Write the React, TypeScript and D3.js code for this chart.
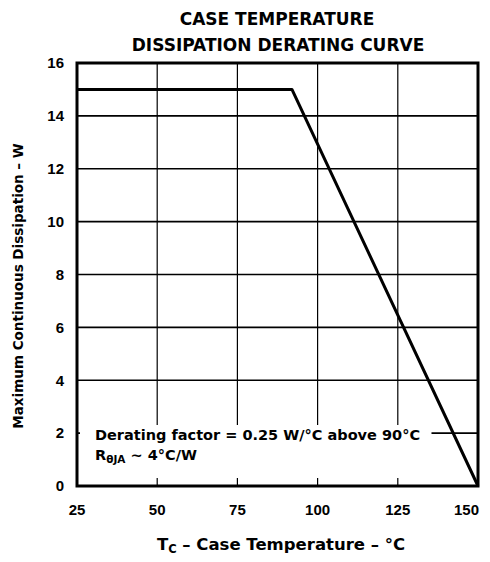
import React from "react";
import * as d3 from "d3";

// derating curve (case temp °C, watts)
const curveTemp = [25, 92, 150];
const curveWatts = [15, 15, 0];
const xTicks = [25, 50, 75, 100, 125, 150];
const yTicks = [0, 2, 4, 6, 8, 10, 12, 14, 16];

const W = 490;
const H = 562;
const margin = { top: 63, right: 12, bottom: 76, left: 77 };
const font = "'Liberation Sans', Arial, Helvetica, sans-serif";
const wide = "'DejaVu Sans', Verdana, sans-serif";

export default function App() {
  const x = d3.scaleLinear().domain([25, 150]).range([margin.left, W - margin.right]);
  const y = d3.scaleLinear().domain([0, 16]).range([H - margin.bottom, margin.top]);

  const pts: [number, number][] = curveTemp.map((t, i) => [t, curveWatts[i]]);
  const line = d3
    .line<[number, number]>()
    .x((d) => x(d[0]))
    .y((d) => y(d[1]));

  const left = x(25);
  const right = x(150);
  const top = y(16);
  const bottom = y(0);

  return (
    <svg
      width={W}
      height={H}
      style={{ position: "absolute", left: 0, top: 0, background: "#fff" }}
      fontFamily={font}
      fontWeight="bold"
    >
      <rect width={W} height={H} fill="#fff" />
      {/* grid */}
      {yTicks.slice(1, -1).map((t) => (
        <line key={"h" + t} x1={left} x2={right} y1={y(t)} y2={y(t)} stroke="#000" strokeWidth={1.6} />
      ))}
      {xTicks.slice(1, -1).map((t) => (
        <line key={"v" + t} x1={x(t)} x2={x(t)} y1={top} y2={bottom} stroke="#000" strokeWidth={1.2} />
      ))}
      {/* annotation box blanks the grid behind the text */}
      <rect x={left + 3} y={425} width={x(135.5) - left - 3} height={bottom - 8 - 425} fill="#fff" />
      <rect x={left} y={top} width={right - left} height={bottom - top} fill="none" stroke="#000" strokeWidth={3} />
      <path d={line(pts) || ""} fill="none" stroke="#000" strokeWidth={3} strokeLinejoin="round" />

      {yTicks.map((t) => (
        <text key={"yl" + t} x={64} y={y(t)} dy="0.35em" textAnchor="end" fontSize={15}>
          {t}
        </text>
      ))}
      {xTicks.map((t, i) => (
        <text
          key={"xl" + t}
          x={i === xTicks.length - 1 ? x(t) + 1 : x(t)}
          y={515}
          textAnchor={i === xTicks.length - 1 ? "end" : "middle"}
          fontSize={15}
        >
          {t}
        </text>
      ))}

      <g fontFamily={wide}>
        <text x={277} y={25} textAnchor="middle" fontSize={17}>
          CASE TEMPERATURE
        </text>
        <text x={278} y={51} textAnchor="middle" fontSize={17}>
          DISSIPATION DERATING CURVE
        </text>

        <text x={95} y={440} fontSize={14.5}>
          Derating factor = 0.25 W/°C above 90°C
        </text>
        <text x={95} y={460} fontSize={14.5}>
          R<tspan fontSize={10.5} dy={3}>θJA</tspan>
          <tspan dy={-3}> ~ 4°C/W</tspan>
        </text>

        <text x={281} y={550} textAnchor="middle" fontSize={16.5}>
          T<tspan fontSize={11.5} dy={3}>C</tspan>
          <tspan dy={-3}> – Case Temperature – °C</tspan>
        </text>
        <text transform={`translate(23,${286}) rotate(-90)`} textAnchor="middle" fontSize={13.5}>
          Maximum Continuous Dissipation – W
        </text>
      </g>
    </svg>
  );
}
